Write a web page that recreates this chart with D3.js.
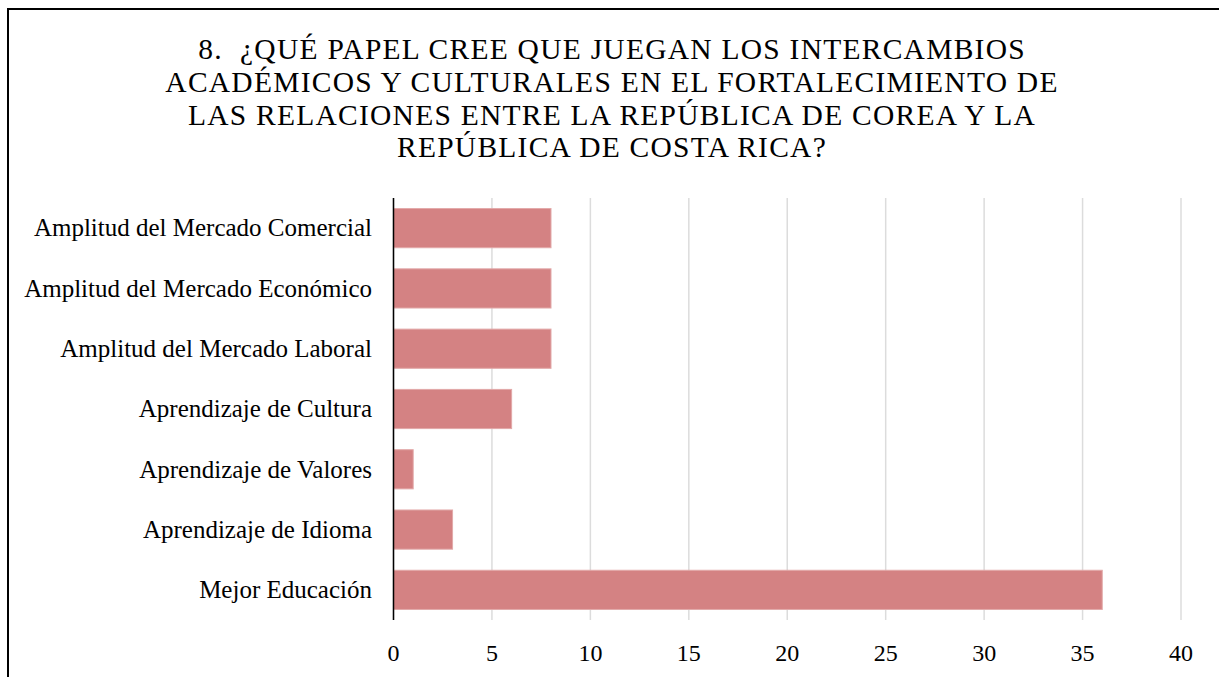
<!DOCTYPE html>
<html><head><meta charset="utf-8">
<script src="https://cdn.jsdelivr.net/npm/d3@7"></script>
<style>body{margin:0;background:#fff}</style>
</head><body>
<svg id="c" width="1219" height="677"></svg>
<script>
const categories = ["Amplitud del Mercado Comercial","Amplitud del Mercado Económico","Amplitud del Mercado Laboral","Aprendizaje de Cultura","Aprendizaje de Valores","Aprendizaje de Idioma","Mejor Educación"];
const values = [8, 8, 8, 6, 1, 3, 36];
const xTicks = [0,5,10,15,20,25,30,35,40];
const titleLines = ["8.  ¿QUÉ PAPEL CREE QUE JUEGAN LOS INTERCAMBIOS","ACADÉMICOS Y CULTURALES EN EL FORTALECIMIENTO DE","LAS RELACIONES ENTRE LA REPÚBLICA DE COREA Y LA","REPÚBLICA DE COSTA RICA?"];

const svg = d3.select("#c");
svg.append("rect").attr("x",8).attr("y",9).attr("width",1230).attr("height",700)
  .attr("fill","none").attr("stroke","#000").attr("stroke-width",2);

const m = {left:393.5, right:1181, top:198, bottom:620};
const x = d3.scaleLinear().domain([0,40]).range([m.left, m.right]);
const y = d3.scaleBand().domain(categories).range([m.top, m.bottom]).paddingInner(0.35).paddingOuter(0.175);

const tf = "'Liberation Serif', 'Times New Roman', serif";
svg.append("g").selectAll("text").data(titleLines).join("text")
  .attr("x",612).attr("y",(d,i)=>59+i*32.8).attr("text-anchor","middle")
  .attr("font-family",tf).attr("font-size",29.5).attr("letter-spacing",1.25)
  .style("white-space","pre").attr("fill","#000").text(d=>d);

svg.append("g").selectAll("line").data(xTicks).join("line")
  .attr("x1",d=>x(d)).attr("x2",d=>x(d)).attr("y1",m.top).attr("y2",m.bottom)
  .attr("stroke","#dcdcdc").attr("stroke-width",1.5);

svg.append("g").selectAll("rect").data(values).join("rect")
  .attr("x",x(0)).attr("y",(d,i)=>y(categories[i]))
  .attr("width",d=>x(d)-x(0)).attr("height",y.bandwidth())
  .attr("fill","#d48283").attr("stroke","#e2a9a9").attr("stroke-width",1);

svg.append("line").attr("x1",x(0)).attr("x2",x(0)).attr("y1",m.top).attr("y2",m.bottom)
  .attr("stroke","#000").attr("stroke-width",1.5);

const lf = "'Liberation Serif', serif";
svg.append("g").selectAll("text").data(categories).join("text")
  .attr("x",372).attr("y",d=>y(d)+y.bandwidth()/2).attr("dy","0.33em")
  .attr("text-anchor","end").attr("font-family",lf).attr("font-size",25).attr("fill","#000").text(d=>d);

svg.append("g").selectAll("text").data(xTicks).join("text")
  .attr("x",d=>x(d)).attr("y",653).attr("dy","0.33em").attr("text-anchor","middle")
  .attr("font-family",lf).attr("font-size",24).attr("fill","#000").text(d=>d);
</script>
</body></html>
